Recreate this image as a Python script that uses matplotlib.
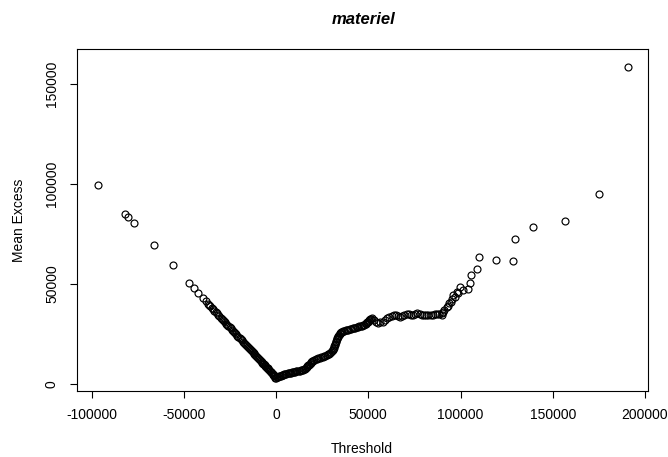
import matplotlib.pyplot as plt

# limiares (threshold) e mean excess lidos do gráfico
# parte descendente (limiares negativos)
limiar_neg = [-96600, -81800, -80200, -77100, -66000, -56000, -47300, -44600,
              -42300, -39700, -37900,
              -37000, -36300, -35600, -34900, -34200, -33500, -32800, -32100,
              -31400, -30700, -30000, -29400, -28800, -28200, -27600, -27000,
              -26400, -25800, -25200, -24600, -24000, -23400, -22800, -22200,
              -21600, -21000, -20400, -19800, -19200, -18600, -18000, -17400,
              -16800, -16200, -15700, -15200, -14700, -14200, -13700, -13200,
              -12700, -12200, -11700, -11200, -10700, -10200, -9700, -9200,
              -8700, -8200, -7800, -7400, -7000, -6600, -6200, -5800, -5400,
              -5000, -4600, -4200, -3800, -3400, -3000, -2600, -2200, -1800,
              -1500, -1200, -900]
excesso_neg = [99600, 85200, 83400, 80700, 69400, 59400, 50400, 47900,
               45400, 43200, 41500,
               40200, 39500, 38800, 38100, 37400, 36700, 36000, 35300,
               34600, 33900, 33200, 32600, 32000, 31400, 30800, 30200,
               29600, 29000, 28400, 27800, 27200, 26600, 26000, 25400,
               24800, 24200, 23600, 23000, 22400, 21800, 21200, 20600,
               20000, 19400, 18900, 18400, 17900, 17400, 16900, 16400,
               15900, 15400, 14900, 14400, 13900, 13400, 12900, 12400,
               11900, 11400, 11000, 10600, 10200, 9800, 9400, 9000, 8600,
               8200, 7800, 7400, 7000, 6600, 6200, 5800, 5400, 5000,
               4700, 4400, 4100]

# parte ascendente (trecho denso até ~52000)
limiar_pos = [-500, 0, 500, 1000, 1500, 2000, 2500, 3000, 3500, 4000, 4500,
              5000, 5600, 6200, 6800, 7400, 8000, 8600, 9200, 9800, 10400,
              11000, 11600, 12200, 12800, 13400, 14000, 14600, 15100, 15600,
              16100, 16600, 17000, 17500, 17900, 18300, 18700, 19200, 19700,
              20200, 20800, 21500, 22200, 23000, 23700, 24500, 25200, 26000,
              26700, 27500, 28200, 28800, 29300, 29800, 30200, 30600, 31000,
              31300, 31600, 31900, 32200, 32400, 32700, 32900, 33200, 33400,
              33700, 34000, 34400, 34800, 35300, 35800, 36400, 37000, 37700,
              38500, 39200, 40000, 40700, 41500, 42200, 43000, 43700, 44500,
              45200, 46000, 46600, 47300, 47900, 48500, 49000, 49400, 49800,
              50200, 50600, 51000, 51500, 52000]
excesso_pos = [2900, 3100, 3300, 3600, 3800, 4000, 4200, 4400, 4600, 4700, 4900,
               5000, 5100, 5300, 5400, 5500, 5700, 5800, 5900, 6000, 6200,
               6300, 6400, 6600, 6700, 6900, 7000, 7200, 7400, 7700,
               8000, 8400, 8800, 9300, 9700, 10200, 10600, 11000, 11400,
               11700, 12000, 12300, 12500, 12800, 13000, 13300, 13600, 13900,
               14200, 14500, 14800, 15200, 15600, 16000, 16500, 17000, 17600,
               18200, 18800, 19500, 20200, 20900, 21600, 22300, 23000, 23600,
               24200, 24700, 25100, 25500, 25800, 26100, 26400, 26600, 26800,
               27000, 27200, 27400, 27600, 27800, 28000, 28200, 28400, 28600,
               28800, 29000, 29200, 29400, 29700, 30000, 30400, 30800, 31200,
               31700, 32100, 32500, 32700, 32900]

# cauda direita (pontos mais espaçados)
limiar_cauda = [53000, 54200, 55400, 56600, 57800, 59000, 60200, 61400, 62600,
                63700, 64800, 66000, 67200, 68300, 69500, 70700, 71800, 73000,
                74200, 75400, 76600, 77800, 79000, 80200, 81400, 82600, 83800,
                85000, 86200, 87400, 88500, 89800, 90200, 90700, 91100, 92500,
                93200, 93900, 94600, 95200, 96100, 97000, 97900, 98800, 99700,
                101400, 104200, 105100, 105900, 108800, 109900, 119100,
                128500, 129500, 139500, 156600, 175100, 190600]
excesso_cauda = [32200, 30900, 30700, 31100, 31200, 32000, 33000, 33700, 33900,
                 34400, 34500, 34000, 33600, 33900, 34500, 35000, 34900, 34400,
                 34700, 35100, 35400, 35000, 34600, 34500, 34700, 34600, 34500,
                 34600, 34800, 35200, 35000, 34500, 35600, 36200, 37000, 38400,
                 39000, 40400, 41000, 42400, 44500, 43700, 46200, 45400, 48400,
                 47000, 47400, 50700, 54700, 57400, 63700, 62000,
                 61500, 72700, 78400, 81500, 95000, 158700]

xticks = [-100000, -50000, 0, 50000, 100000, 150000, 200000]
yticks = [0, 50000, 100000, 150000]

plt.rcParams["font.family"] = ["Liberation Sans", "DejaVu Sans"]

fig = plt.figure(figsize=(6.68, 4.57), dpi=100)
ax = fig.add_axes([77 / 668, 66 / 457, 571 / 668, 342 / 457])

limiares = limiar_neg + limiar_pos + limiar_cauda
excessos = excesso_neg + excesso_pos + excesso_cauda
ax.plot(limiares, excessos, linestyle="none", marker="o", markersize=5,
        markerfacecolor="none", markeredgecolor="black", markeredgewidth=0.85)

ax.set_xlim(-107900, 201600)
ax.set_ylim(-3500, 167500)
ax.set_xticks(xticks)
ax.set_xticklabels([str(t) for t in xticks])
ax.set_yticks(yticks)
ax.set_yticklabels([str(t) for t in yticks], rotation=90, va="center")
ax.tick_params(direction="out", length=5, width=0.8, labelsize=10, pad=7)
ax.tick_params(axis="y", pad=8)
for lado in ax.spines.values():
    lado.set_linewidth(0.8)

fig.text(364 / 668, 1 - 20 / 457, "materiel", ha="center", va="center",
         fontsize=12, fontweight="bold", fontstyle="italic")
fig.text(362 / 668, 1 - 449 / 457, "Threshold", ha="center", va="center",
         fontsize=10)
fig.text(19 / 668, 1 - 220 / 457, "Mean Excess", ha="center", va="center",
         fontsize=10, rotation=90)

fig.savefig("out.png", dpi=100)
